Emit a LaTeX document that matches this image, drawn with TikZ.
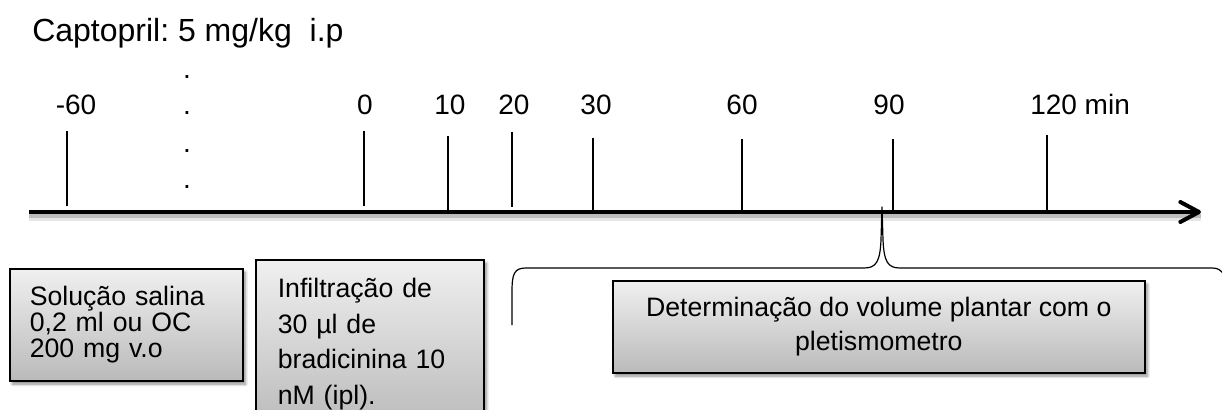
\documentclass[tikz,border=0pt]{standalone}
\usepackage{fontspec}
\setmainfont{Liberation Sans}
\usetikzlibrary{arrows.meta,shadows.blur}
\frenchspacing

\tikzset{
  lbl/.style={font=\fontsize{21}{25}\selectfont, inner sep=0pt, anchor=base},
  tickline/.style={line width=1.1pt},
  grbox/.style={draw=black, line width=1.2pt, top color=black!6, bottom color=black!27,
    blur shadow={shadow xshift=2pt, shadow yshift=-2.5pt, shadow blur steps=6, shadow opacity=45}},
  bracepath/.style={line width=0.9pt, line join=round},
  dotmark/.style={font=\fontsize{21}{25}\selectfont, inner sep=0pt, anchor=base}
}

\begin{document}
\begin{tikzpicture}[x=0.75pt, y=-0.75pt]
\useasboundingbox (0,0) rectangle (1222,410);
\clip (0,0) rectangle (1222,410);

% heading
\node[font=\fontsize{24}{28}\selectfont, inner sep=0pt, anchor=base west] (title) at (32,42) {Captopril: 5 mg/kg\ \ i.p};

% vertical dotted marker
\node[dotmark] (dA) at (187,79) {.};
\node[dotmark] (dB) at (187,115) {.};
\node[dotmark] (dC) at (187,152) {.};
\node[dotmark] (dD) at (187,189) {.};

% time labels
\node[lbl] (tm60) at (76,115) {-60};
\node[lbl] (t0)   at (365,115) {0};
\node[lbl] (t10)  at (450,115) {10};
\node[lbl] (t20)  at (514,115) {20};
\node[lbl] (t30)  at (596,115) {30};
\node[lbl] (t60)  at (742,115) {60};
\node[lbl] (t90)  at (889,115) {90};
\node[lbl, anchor=base west] (t120) at (1030,115) {120 min};

% axis with soft shadow
\coordinate (axL) at (29,212);
\coordinate (axR) at (1201,212);
\draw[line width=5pt, black, opacity=0.10] ([yshift=-4pt]axL) -- ([yshift=-4pt]axR);
\draw[line width=3pt, black, opacity=0.18] ([yshift=-3pt]axL) -- ([yshift=-3pt]axR);
\draw[line width=3pt, -{Straight Barb[length=14pt,width=15pt,round]}] (axL) -- (axR);

% ticks
\draw[tickline] (67,131) -- (67,206);
\draw[tickline] (364,131) -- (364,206);
\draw[tickline] (448,136) -- (448,211);
\draw[tickline] (512,132) -- (512,207);
\draw[tickline] (593,138) -- (593,211);
\draw[tickline] (742,139) -- (742,211);
\draw[tickline] (893,139) -- (893,211);
\draw[tickline] (1047,135) -- (1047,211);

% brace under the time line
\coordinate (brTip) at (882,207);
\draw[bracepath] (512,325) -- (512,292)
  .. controls (512,274) and (514,268) .. (526,268)
  -- (864,268)
  .. controls (876,268) and (880,262) .. (881,240)
  -- (brTip)
  -- (883,240)
  .. controls (884,262) and (888,268) .. (900,268)
  -- (1212,268)
  .. controls (1218,268) and (1221,270) .. (1224,275);

% boxes
\node[grbox, anchor=north west, minimum width=174.75pt, minimum height=84pt,
      inner xsep=15pt, text width=144.75pt, align=left,
      font=\fontsize{20}{19.5}\selectfont] (saline) at (9,268)
  {Solução salina\\0,2 ml ou OC\\200 mg v.o};

\node[grbox, anchor=north west, minimum width=171pt,
      inner xsep=16.5pt, inner ysep=14pt, text width=138pt, align=left,
      font=\fontsize{20}{26.6}\selectfont] (bk) at (255,259)
  {Infiltração de\\30 µl de\\bradicinina 10\\nM (ipl).};

\node[grbox, anchor=north west, minimum width=399pt, minimum height=69pt,
      align=center, font=\fontsize{20}{25.5}\selectfont] (pleth) at (612,280)
  {Determinação do volume plantar com o\\pletismometro};
\end{tikzpicture}
\end{document}
